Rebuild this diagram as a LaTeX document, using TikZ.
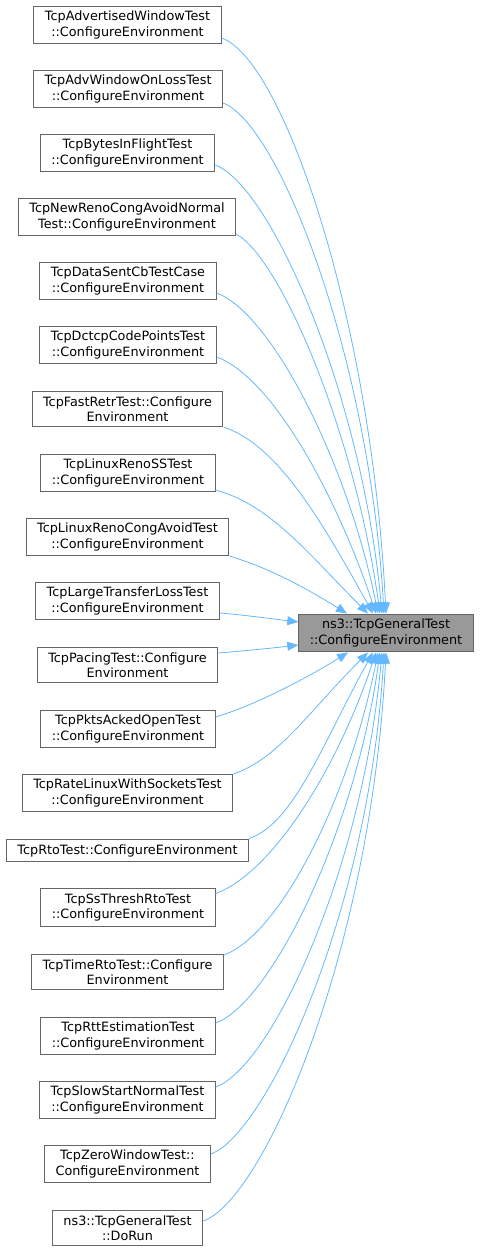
\documentclass[tikz,border=0pt]{standalone}
\usepackage{fontspec}
\setmainfont{DejaVu Sans}
\usepackage{tikz}
\usetikzlibrary{arrows.meta,positioning}
\definecolor{edgeblue}{HTML}{63B8FF}
\definecolor{boxgray}{HTML}{666666}
\definecolor{curgray}{HTML}{999999}

\begin{document}
\begin{tikzpicture}[x=1pt,y=-1pt,
    >={Stealth[length=11pt,width=9pt,inset=0pt]},
    fn/.style={draw=boxgray,line width=1pt,fill=white,align=center,
        font=\fontsize{12.8}{15.5}\selectfont,inner xsep=11pt,inner ysep=5pt},
    cur/.style={fn,fill=curgray},
    call/.style={->,draw=edgeblue,line width=0.8pt}]
    \useasboundingbox (0,0) rectangle (480,1253);

    \node[fn] (c1) at (127.5,25) {TcpAdvertisedWindowTest\\::ConfigureEnvironment};
    \node[fn] (c2) at (128,89) {TcpAdvWindowOnLossTest\\::ConfigureEnvironment};
    \node[fn] (c3) at (127.5,153) {TcpBytesInFlightTest\\::ConfigureEnvironment};
    \node[fn] (c4) at (127,217) {TcpNewRenoCongAvoidNormal\\Test::ConfigureEnvironment};
    \node[fn] (c5) at (128,281) {TcpDataSentCbTestCase\\::ConfigureEnvironment};
    \node[fn] (c6) at (128,345) {TcpDctcpCodePointsTest\\::ConfigureEnvironment};
    \node[fn] (c7) at (127.5,409) {TcpFastRetrTest::Configure\\Environment};
    \node[fn] (c8) at (128,473) {TcpLinuxRenoSSTest\\::ConfigureEnvironment};
    \node[fn] (c9) at (127.5,537) {TcpLinuxRenoCongAvoidTest\\::ConfigureEnvironment};
    \node[fn] (c10) at (127.5,601) {TcpLargeTransferLossTest\\::ConfigureEnvironment};
    \node[fn] (c11) at (127.5,665) {TcpPacingTest::Configure\\Environment};
    \node[fn] (c12) at (128,729) {TcpPktsAckedOpenTest\\::ConfigureEnvironment};
    \node[fn] (c13) at (127.5,793) {TcpRateLinuxWithSocketsTest\\::ConfigureEnvironment};
    \node[fn] (c14) at (127.5,850.5) {TcpRtoTest::ConfigureEnvironment};
    \node[fn] (c15) at (128,907.5) {TcpSsThreshRtoTest\\::ConfigureEnvironment};
    \node[fn] (c16) at (127.5,972) {TcpTimeRtoTest::Configure\\Environment};
    \node[fn] (c17) at (128,1036) {TcpRttEstimationTest\\::ConfigureEnvironment};
    \node[fn] (c18) at (127.5,1100) {TcpSlowStartNormalTest\\::ConfigureEnvironment};
    \node[fn] (c19) at (127.5,1164) {TcpZeroWindowTest::\\ConfigureEnvironment};
    \node[fn] (c20) at (127.5,1228) {ns3::TcpGeneralTest\\::DoRun};
    \node[cur] (f) at (386,633) {ns3::TcpGeneralTest\\::ConfigureEnvironment};

    % callers above
    \draw[call] ([yshift=-13pt]c1.east) .. controls +(60,20) and +(-15,-300) .. ([xshift=0pt]f.north);
    \draw[call] ([yshift=-14pt]c2.east) .. controls +(55,20) and +(-15,-260) .. ([xshift=-2pt]f.north);
    \draw[call] ([yshift=-12pt]c3.east) .. controls +(55,20) and +(-20,-220) .. ([xshift=-4pt]f.north);
    \draw[call] ([yshift=-17pt]c4.east) .. controls +(45,25) and +(-25,-180) .. ([xshift=-6pt]f.north);
    \draw[call] ([yshift=-12pt]c5.east) .. controls +(55,20) and +(-30,-150) .. ([xshift=-8pt]f.north);
    \draw[call] ([yshift=-12pt]c6.east) .. controls +(55,20) and +(-40,-120) .. ([xshift=-10pt]f.north);
    \draw[call] ([yshift=-18pt]c7.east) .. controls +(55,18) and +(-50,-90) .. ([xshift=-13pt]f.north);
    \draw[call] ([yshift=-17pt]c8.east) .. controls +(55,15) and +(-60,-60) .. ([xshift=-18pt]f.north);
    \draw[call] ([yshift=-19pt]c9.east) .. controls +(40,12) and +(-40,-25) .. ([xshift=-39pt]f.north);
    \draw[call] ([yshift=-12pt]c10.east) .. controls +(25,2) and +(-25,-3) .. ([yshift=11pt]f.west);
    \draw[call] ([yshift=12pt]c11.east) .. controls +(25,-2) and +(-25,3) .. ([yshift=-12pt]f.west);
    % callers below
    \draw[call] ([yshift=12pt]c12.east) .. controls +(40,-12) and +(-40,25) .. ([xshift=-38pt]f.south);
    \draw[call] ([yshift=19pt]c13.east) .. controls +(45,-15) and +(-60,60) .. ([xshift=-18pt]f.south);
    \draw[call] ([yshift=12pt]c14.east) .. controls +(45,-15) and +(-50,90) .. ([xshift=-13pt]f.south);
    \draw[call] ([yshift=14pt]c15.east) .. controls +(55,-20) and +(-40,120) .. ([xshift=-10pt]f.south);
    \draw[call] ([yshift=17pt]c16.east) .. controls +(55,-20) and +(-30,150) .. ([xshift=-8pt]f.south);
    \draw[call] ([yshift=13pt]c17.east) .. controls +(55,-20) and +(-25,180) .. ([xshift=-6pt]f.south);
    \draw[call] ([yshift=13pt]c18.east) .. controls +(55,-20) and +(-20,220) .. ([xshift=-4pt]f.south);
    \draw[call] ([yshift=10pt]c19.east) .. controls +(55,-20) and +(-15,260) .. ([xshift=-2pt]f.south);
    \draw[call] ([yshift=7pt]c20.east) .. controls +(60,-20) and +(-15,300) .. ([xshift=0pt]f.south);
\end{tikzpicture}
\end{document}
